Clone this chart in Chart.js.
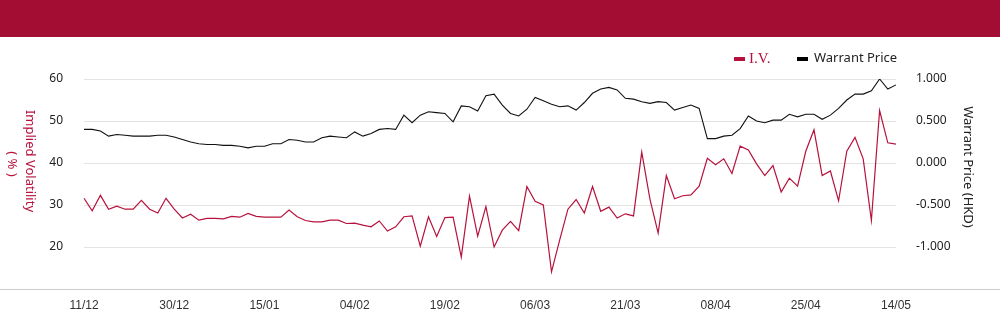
<!DOCTYPE html>
<html>
<head>
<meta charset="utf-8">
<script src="https://cdn.jsdelivr.net/npm/chart.js@4/dist/chart.umd.min.js"></script>
<style>
  html, body { margin: 0; padding: 0; background: #fff; }
  #wrap { width: 1000px; height: 324px; position: relative; }
</style>
</head>
<body>
<div id="wrap"><canvas id="chart" width="1000" height="324"></canvas></div>
<script>
// trading days, 11/12 -> 14/05
const dates = [
  '11/12','12/12','13/12','16/12','17/12','18/12','19/12','20/12','23/12','24/12',
  '27/12','30/12','31/12','02/01','03/01','06/01','07/01','08/01','09/01','10/01',
  '13/01','14/01','15/01','16/01','17/01','20/01','21/01','22/01','23/01','24/01',
  '27/01','28/01','03/02','04/02','05/02','06/02','07/02','10/02','11/02','12/02',
  '13/02','14/02','17/02','18/02','19/02','20/02','21/02','24/02','25/02','26/02',
  '27/02','28/02','03/03','04/03','05/03','06/03','07/03','10/03','11/03','12/03',
  '13/03','14/03','17/03','18/03','19/03','20/03','21/03','24/03','25/03','26/03',
  '27/03','28/03','31/03','01/04','02/04','03/04','07/04','08/04','09/04','10/04',
  '11/04','14/04','15/04','16/04','17/04','22/04','23/04','24/04','25/04','28/04',
  '29/04','30/04','02/05','06/05','07/05','08/05','09/05','12/05','13/05','14/05'
];

// implied volatility (%)
const ivValues = [
  31.6, 28.6, 32.3, 29.0, 29.7, 29.0, 29.0, 31.1, 29.0, 28.1,
  31.6, 29.0, 26.9, 27.8, 26.4, 26.8, 26.8, 26.7, 27.3, 27.1,
  28.0, 27.3, 27.1, 27.1, 27.1, 28.8, 27.2, 26.3, 26.0, 26.0,
  26.4, 26.4, 25.6, 25.7, 25.2, 24.8, 26.2, 23.8, 24.8, 27.2,
  27.4, 20.2, 27.2, 22.5, 27.0, 27.1, 17.6, 32.1, 22.6, 29.6,
  20.0, 24.0, 26.1, 23.9, 34.4, 30.9, 30.0, 14.1, 21.7, 29.0,
  31.3, 28.1, 34.4, 28.5, 29.5, 26.9, 27.9, 27.4, 42.6, 31.4,
  23.3, 37.0, 31.5, 32.2, 32.4, 34.5, 41.1, 39.6, 41.0, 37.5,
  44.0, 43.1, 39.8, 37.0, 39.4, 33.1, 36.4, 34.5, 42.8, 47.9,
  37.0, 38.1, 31.0, 42.8, 46.1, 41.0, 26.3, 52.5, 44.8, 44.5
];

// warrant price (HKD)
const priceValues = [
  0.40, 0.40, 0.38, 0.32, 0.34, 0.33, 0.32, 0.32, 0.32, 0.33,
  0.33, 0.31, 0.28, 0.25, 0.23, 0.22, 0.22, 0.21, 0.21, 0.20,
  0.18, 0.20, 0.20, 0.23, 0.23, 0.28, 0.27, 0.25, 0.25, 0.30,
  0.32, 0.31, 0.30, 0.37, 0.32, 0.35, 0.40, 0.41, 0.40, 0.57,
  0.48, 0.57, 0.61, 0.60, 0.59, 0.49, 0.68, 0.67, 0.62, 0.80,
  0.82, 0.69, 0.59, 0.56, 0.64, 0.78, 0.74, 0.70, 0.67, 0.68,
  0.63, 0.72, 0.83, 0.88, 0.90, 0.87, 0.77, 0.76, 0.73, 0.71,
  0.73, 0.72, 0.63, 0.66, 0.69, 0.65, 0.29, 0.29, 0.32, 0.33,
  0.41, 0.56, 0.50, 0.48, 0.51, 0.51, 0.58, 0.55, 0.58, 0.58,
  0.52, 0.57, 0.65, 0.75, 0.82, 0.82, 0.86, 1.00, 0.88, 0.93
];

const RED = '#b7123d';
const HEADER = '#a30d33';
const SANS = '"Noto Sans", "Open Sans", sans-serif';

// header band, custom legend, rotated axis titles, bottom rule
const decor = {
  id: 'decor',
  beforeDraw(chart) {
    const ctx = chart.ctx;
    ctx.save();
    ctx.fillStyle = HEADER;
    ctx.fillRect(0, 0, 1000, 37);
    ctx.restore();
  },
  afterDraw(chart) {
    const ctx = chart.ctx;
    const b = chart.chartArea.bottom;
    ctx.save();
    // bottom rule across full width
    ctx.strokeStyle = '#cccccc';
    ctx.lineWidth = 1;
    ctx.beginPath();
    ctx.moveTo(0, b + 0.5);
    ctx.lineTo(1000, b + 0.5);
    ctx.stroke();

    // legend
    ctx.textBaseline = 'middle';
    ctx.fillStyle = RED;
    ctx.fillRect(734, 57, 11, 4);
    ctx.font = '15px "Liberation Serif", serif';
    ctx.fillText('I.V.', 749, 59);
    ctx.fillStyle = '#000';
    ctx.fillRect(797, 57, 11, 4);
    ctx.fillStyle = '#222';
    ctx.font = '13px ' + SANS;
    ctx.fillText('Warrant Price', 814, 58);

    // left title
    ctx.textAlign = 'center';
    ctx.fillStyle = RED;
    ctx.font = '13px ' + SANS;
    ctx.save();
    ctx.translate(30, 161);
    ctx.rotate(Math.PI / 2);
    ctx.fillText('Implied Volatility', 0, 0);
    ctx.restore();
    ctx.save();
    ctx.translate(12, 164);
    ctx.rotate(Math.PI / 2);
    ctx.fillText('( % )', 0, 0);
    ctx.restore();

    // right title
    ctx.fillStyle = '#222';
    ctx.save();
    ctx.translate(968, 167);
    ctx.rotate(Math.PI / 2);
    ctx.fillText('Warrant Price (HKD)', 0, 0);
    ctx.restore();
    ctx.restore();
  }
};

new Chart(document.getElementById('chart'), {
  type: 'line',
  data: {
    labels: dates,
    datasets: [
      {
        label: 'I.V.',
        data: ivValues,
        yAxisID: 'y',
        borderColor: RED,
        borderWidth: 1.2,
        pointRadius: 0,
        tension: 0
      },
      {
        label: 'Warrant Price',
        data: priceValues,
        yAxisID: 'y1',
        borderColor: '#111',
        borderWidth: 1.1,
        pointRadius: 0,
        tension: 0
      }
    ]
  },
  options: {
    responsive: false,
    animation: false,
    layout: { padding: { top: 79, left: 0, right: 0, bottom: 0 } },
    plugins: {
      legend: { display: false },
      tooltip: { enabled: false }
    },
    scales: {
      x: {
        offset: false,
        grid: { display: false, drawTicks: false },
        border: { display: false },
        afterFit: s => { s.height = 35; },
        ticks: {
          autoSkip: false,
          maxRotation: 0,
          padding: 9,
          color: '#333',
          font: { family: '"Liberation Sans Narrow", "Liberation Sans", sans-serif', size: 12 },
          callback: (v, i) => (i % 11 === 0 ? dates[i] : '')
        }
      },
      y: {
        position: 'left',
        min: 10,
        max: 60,
        afterFit: s => { s.width = 84; },
        border: { display: false },
        grid: {
          drawTicks: false,
          color: ctx => (ctx.tick && ctx.tick.value === 10 ? 'rgba(0,0,0,0)' : '#e3e3e3')
        },
        ticks: {
          stepSize: 10,
          padding: 21,
          color: '#222',
          font: { family: SANS, size: 12 },
          callback: v => (v === 10 ? '' : v)
        }
      },
      y1: {
        position: 'right',
        min: -1.5,
        max: 1,
        afterFit: s => { s.width = 104; },
        border: { display: false },
        grid: { display: false, drawTicks: false },
        ticks: {
          stepSize: 0.5,
          padding: 20,
          color: '#222',
          font: { family: SANS, size: 12 },
          callback: v => (v < -1.25 ? '' : v.toFixed(3))
        }
      }
    }
  },
  plugins: [decor]
});
</script>
</body>
</html>
